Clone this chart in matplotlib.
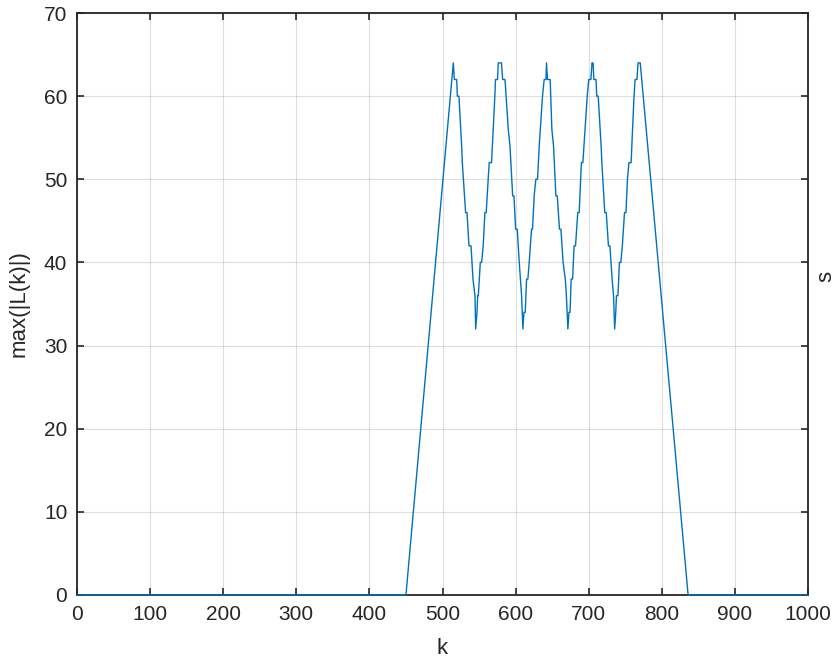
import matplotlib
matplotlib.use("Agg")
import matplotlib.pyplot as plt

# vertices of the curve
k_pts = [0, 450, 514.8, 516.2, 519.4, 520.3, 522.5, 526.2, 527.1, 531.6, 533.5,
         536.2, 539, 541.7, 544.4, 545.4, 547.2, 548.1, 549, 551.7, 553.5, 555.7,
         558, 559.8, 562.5, 563.9, 567.1, 571.6, 572.5, 575.3, 576.2, 580.7, 582.3,
         585.5, 590, 592.3, 596, 597.8, 600, 602.3, 605, 608.2, 610, 611.4, 613.2,
         615, 616.8, 618.6, 621.8, 623.2, 625.4, 627.7, 630, 632.3, 636.8, 639.1,
         641.5, 642.3, 643.6, 647.3, 649.6, 651.9, 655.1, 657, 660, 662, 665, 668,
         669.5, 670.5, 671.5, 673, 674.5, 676, 678, 680, 682, 685, 687, 690, 692,
         695, 698, 700, 703, 704.5, 706, 707, 710, 711, 713, 717, 718, 722, 724,
         727, 729, 732, 734, 735.5, 737, 738, 740, 742, 744, 746, 749, 751, 753,
         755, 758, 762, 763.5, 766, 767.5, 770.5, 836, 1000]
y_pts = [0, 0, 64, 62, 62, 60, 60, 54, 52, 46, 46,
         42, 42, 38, 36, 32, 34, 36, 36, 40, 40, 42,
         46, 46, 50, 52, 52, 60, 62, 62, 64, 64, 62,
         62, 56, 54, 48, 48, 44, 44, 40, 36, 32, 34, 34,
         38, 38, 40, 44, 44, 48, 50, 50, 54, 60, 62,
         62, 64, 62, 62, 56, 54, 48, 48, 44, 44, 40, 38,
         36, 34, 32, 34, 34, 38, 38, 42, 42, 46, 46, 52, 52,
         56, 60, 62, 62, 64, 64, 62, 62, 60, 60, 54, 52, 46, 46,
         42, 42, 38, 36, 32, 34, 36, 36, 40, 40, 42, 46, 46, 50,
         52, 52, 60, 62, 62, 64, 64, 0, 0]

x_ticks = [0, 100, 200, 300, 400, 500, 600, 700, 800, 900, 1000]
y_ticks = [0, 10, 20, 30, 40, 50, 60, 70]

plt.rcParams['font.family'] = ['Liberation Sans', 'DejaVu Sans']
dark = '#262626'

fig = plt.figure(figsize=(8.38, 6.62), dpi=100)
ax = fig.add_axes([77/838, 1 - 595/662, (808-77)/838, (595-13)/662])

ax.plot(k_pts, y_pts, color='#0072BD', lw=1.0, zorder=3, clip_on=False)

ax.set_xlim(0, 1000)
ax.set_ylim(0, 70)
ax.set_xticks(x_ticks)
ax.set_yticks(y_ticks)
ax.grid(True, color='#262626', alpha=0.15, lw=0.8)
ax.set_axisbelow(True)
ax.tick_params(direction='in', length=5, width=1.2, colors=dark, labelsize=15,
               top=True, right=True, pad=7)
for s in ax.spines.values():
    s.set_color(dark)
    s.set_linewidth(1.3)

ax.set_xlabel('k', fontsize=16, color=dark, labelpad=10)
ax.set_ylabel('max(|L(k)|)', fontsize=16, color=dark, labelpad=10)

# label at the right edge
fig.text(826/838, 1 - 276/662, 's', rotation=90, fontsize=16, color=dark,
         ha='center', va='center')

fig.savefig('out.png', dpi=100)
